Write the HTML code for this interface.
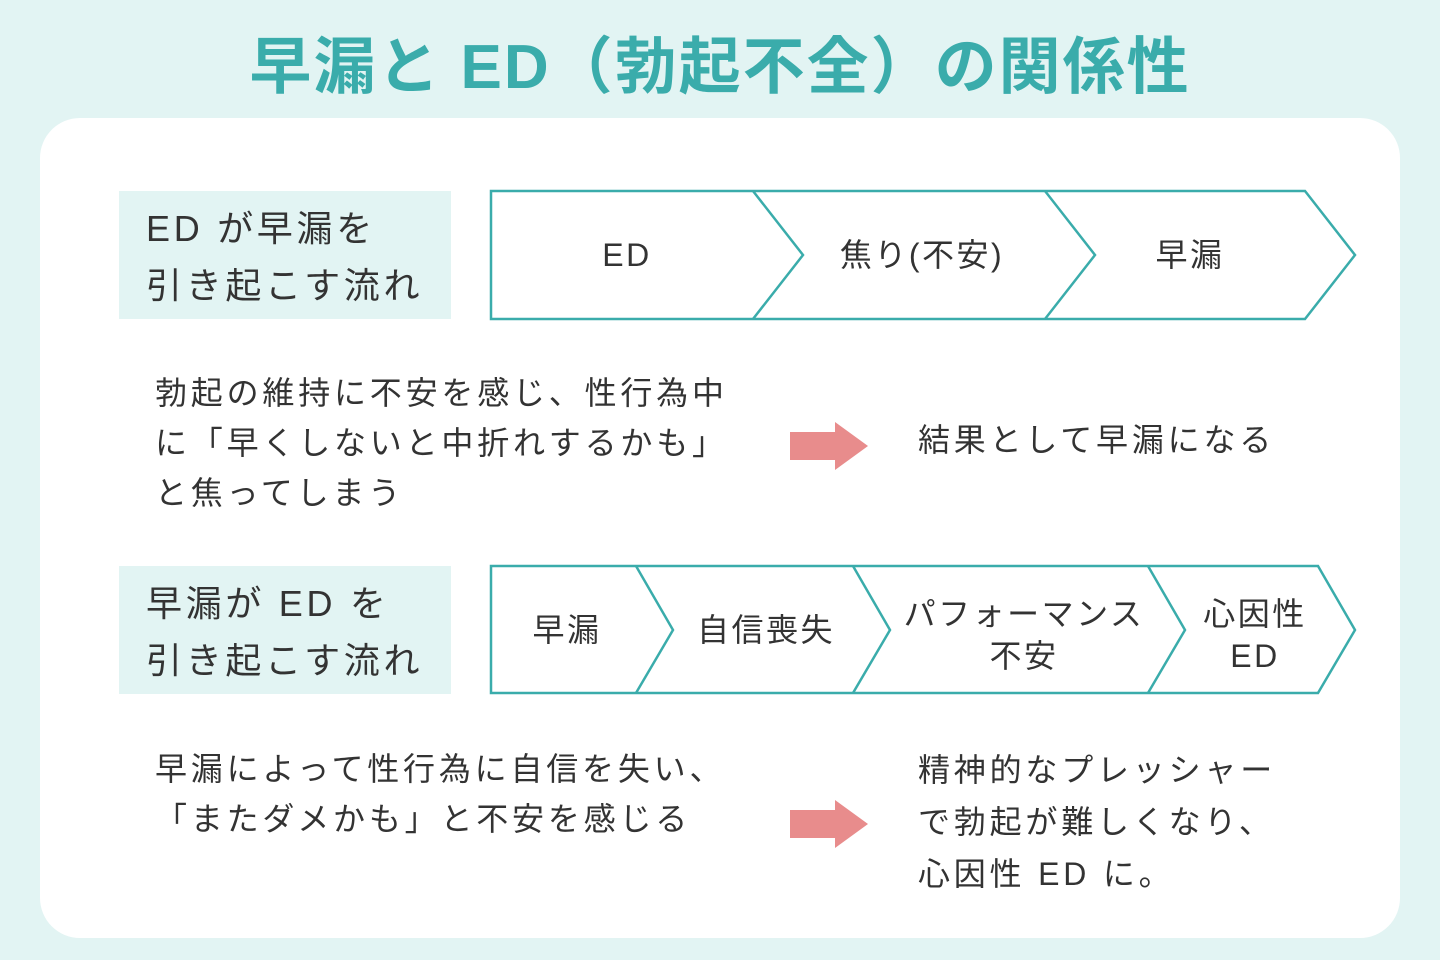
<!DOCTYPE html>
<html><head><meta charset="utf-8"><style>
body{margin:0;width:1440px;height:960px;background:#e2f4f3;font-family:"Liberation Sans","Noto Sans CJK JP",sans-serif;position:relative;overflow:hidden;color:#333}
.t{position:absolute;white-space:nowrap}
.title{left:0;width:1440px;text-align:center;top:16px;font-size:62px;font-weight:bold;color:#3aacab;letter-spacing:2px}
.card{position:absolute;left:40px;top:118px;width:1360px;height:820px;background:#fff;border-radius:40px}
.lab{position:absolute;left:119px;width:332px;height:128px;background:#e2f4f3;font-size:36px;line-height:57px;padding:9px 0 0 27px;box-sizing:border-box;color:#333;letter-spacing:3.7px;white-space:nowrap}
.p{font-size:32px;line-height:50px;color:#333;letter-spacing:3.8px}
svg{position:absolute;left:0;top:0}
</style></head><body>
<div class="t title">早漏と ED（勃起不全）の関係性</div>
<div class="card"></div>
<div class="lab" style="top:191px">ED が早漏を<br>引き起こす流れ</div>
<div class="lab" style="top:566px">早漏が ED を<br>引き起こす流れ</div>
<svg width="1440" height="960">
<g fill="none" stroke="#3aacab" stroke-width="2.5">
<path d="M491,191 H1305 L1355,255 L1305,319 H491 Z"/>
<path d="M753,191 L803,255 L753,319"/>
<path d="M1045,191 L1095,255 L1045,319"/>
<path d="M491,566 H1318 L1355,630 L1318,693 H491 Z"/>
<path d="M636,566 L673,630 L636,693"/>
<path d="M853,566 L890,630 L853,693"/>
<path d="M1148,566 L1185,630 L1148,693"/>
</g>
<g fill="#e88c8c">
<path d="M790,432 H835 V422 L868,446 L835,470 V460 H790 Z"/>
<path d="M790,810 H835 V800 L868,824 L835,848 V838 H790 Z"/>
</g>
<g font-size="32" fill="#333" text-anchor="middle" letter-spacing="2.5" font-family="Liberation Sans, Noto Sans CJK JP, sans-serif">
<text x="627" y="266">ED</text>
<text x="922" y="266">焦り(不安)</text>
<text x="1190" y="266">早漏</text>
<text x="567" y="641">早漏</text>
<text x="766" y="641">自信喪失</text>
<text x="1024" y="625">パフォーマンス</text>
<text x="1024" y="667">不安</text>
<text x="1255" y="625">心因性</text>
<text x="1255" y="667">ED</text>
</g>
</svg>
<div class="t p" style="left:155px;top:368px">勃起の維持に不安を感じ、性行為中<br>に「早くしないと中折れするかも」<br>と焦ってしまう</div>
<div class="t p" style="left:918px;top:415px">結果として早漏になる</div>
<div class="t p" style="left:155px;top:744px">早漏によって性行為に自信を失い、<br>「またダメかも」と不安を感じる</div>
<div class="t p" style="left:918px;top:744px;line-height:52px">精神的なプレッシャー<br>で勃起が難しくなり、<br>心因性 ED に。</div>
</body></html>
